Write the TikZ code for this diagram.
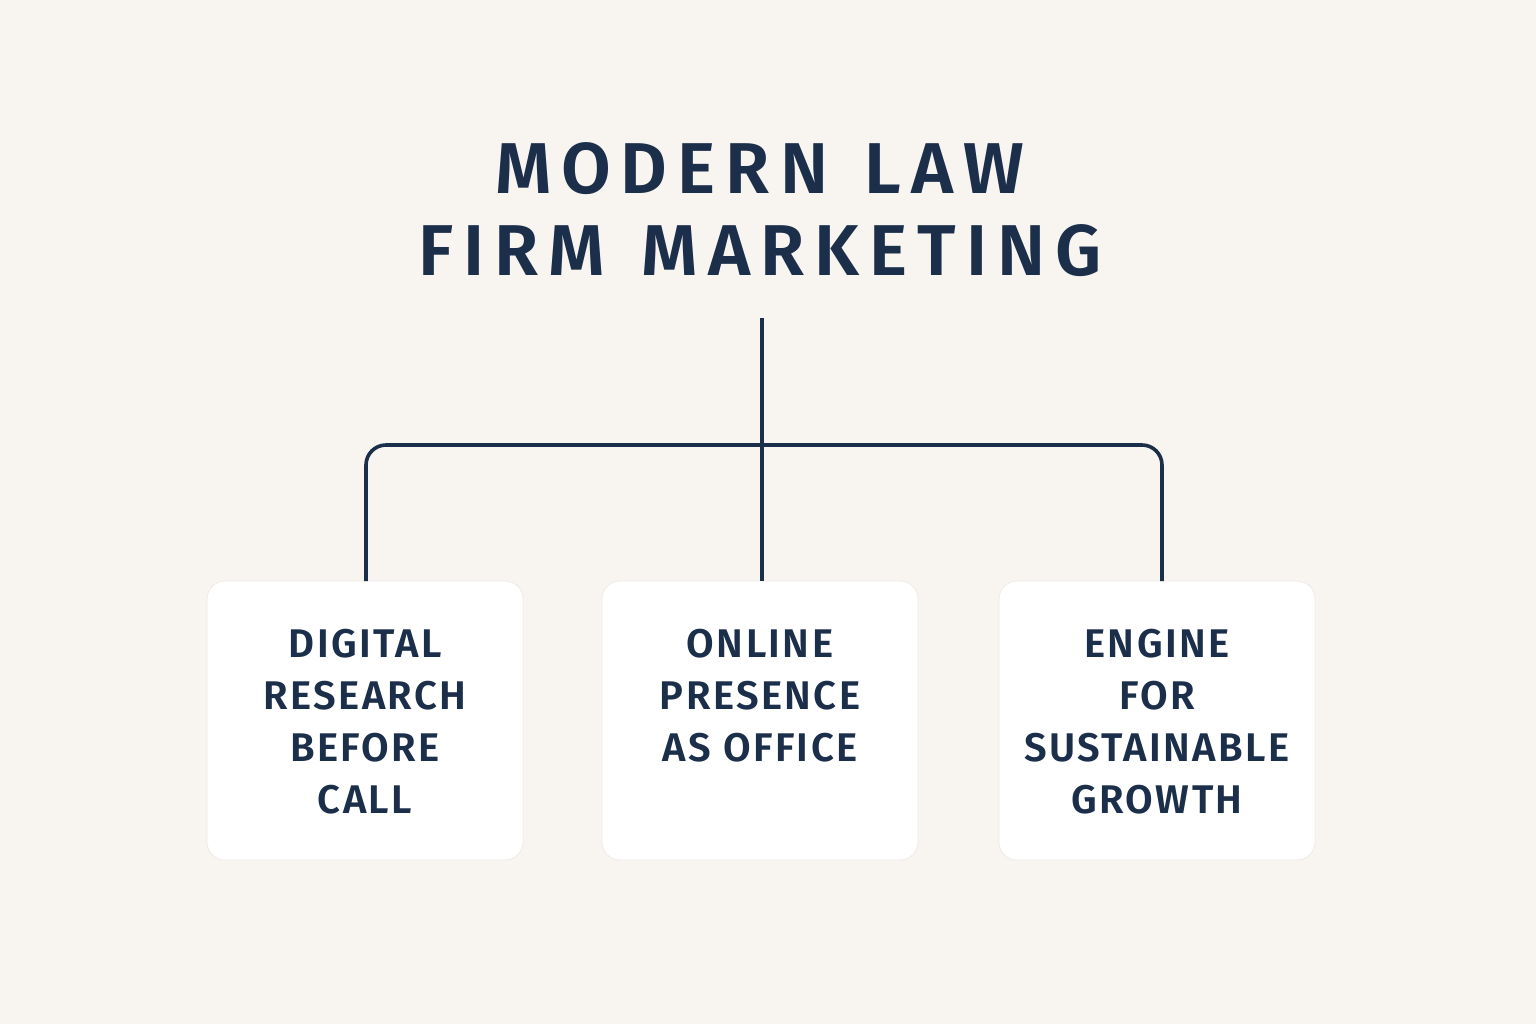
\documentclass[tikz,border=0pt]{standalone}
\usepackage{fontspec}
\setmainfont{Fira Sans}
\newfontfamily\titlefont[LetterSpace=14,BoldFont={Fira Sans SemiBold}]{Fira Sans}
\newfontfamily\boxfont[LetterSpace=6,BoldFont={Fira Sans SemiBold}]{Fira Sans}
\usetikzlibrary{positioning}
\definecolor{paper}{HTML}{F8F5F1}
\definecolor{navy}{HTML}{1B2E4A}
\definecolor{cardedge}{HTML}{EFEBE6}

\begin{document}
\begin{tikzpicture}[x=1pt,y=-1pt,
    card/.style={draw=cardedge, line width=0.8pt, fill=white, rounded corners=18pt,
      minimum width=316pt, minimum height=279pt, inner sep=0pt},
    cardtext/.style={align=center, inner sep=0pt, text=navy,
      font=\boxfont\bfseries\fontsize{40}{52}\selectfont},
    branch/.style={draw=navy, line width=3.6pt}]
    \useasboundingbox (0,0) rectangle (1536,1024);
    \fill[paper] (0,0) rectangle (1536,1024);
    % title
    \node[align=center, inner sep=0pt, text=navy,
      font=\titlefont\bfseries\fontsize{72}{82}\selectfont] (title) at (760,210)
      {MODERN\hspace{9pt} LAW\\FIRM\hspace{9pt} MARKETING};
    % cards
    \node[card] (digital) at (365,720.5) {};
    \node[card] (online) at (760,720.5) {};
    \node[card] (engine) at (1157,720.5) {};
    \node[cardtext, below=48pt of digital.north] (digitaltxt)
      {DIGITAL\\RESEARCH\\BEFORE\\CALL};
    \node[cardtext, below=48pt of online.north] (onlinetxt)
      {ONLINE\\PRESENCE\\AS OFFICE};
    \node[cardtext, below=48pt of engine.north] (enginetxt)
      {ENGINE\\FOR\\SUSTAINABLE\\GROWTH};
    % connectors
    \coordinate (stem) at (762,318);
    \coordinate (bus) at (762,445);
    \coordinate (left) at (366,581);
    \coordinate (right) at (1162,581);
    \draw[branch] (stem) -- (stem |- online.north);
    \draw[branch, rounded corners=20pt] (left) -- (left |- bus) -- (right |- bus) -- (right);
\end{tikzpicture}
\end{document}
